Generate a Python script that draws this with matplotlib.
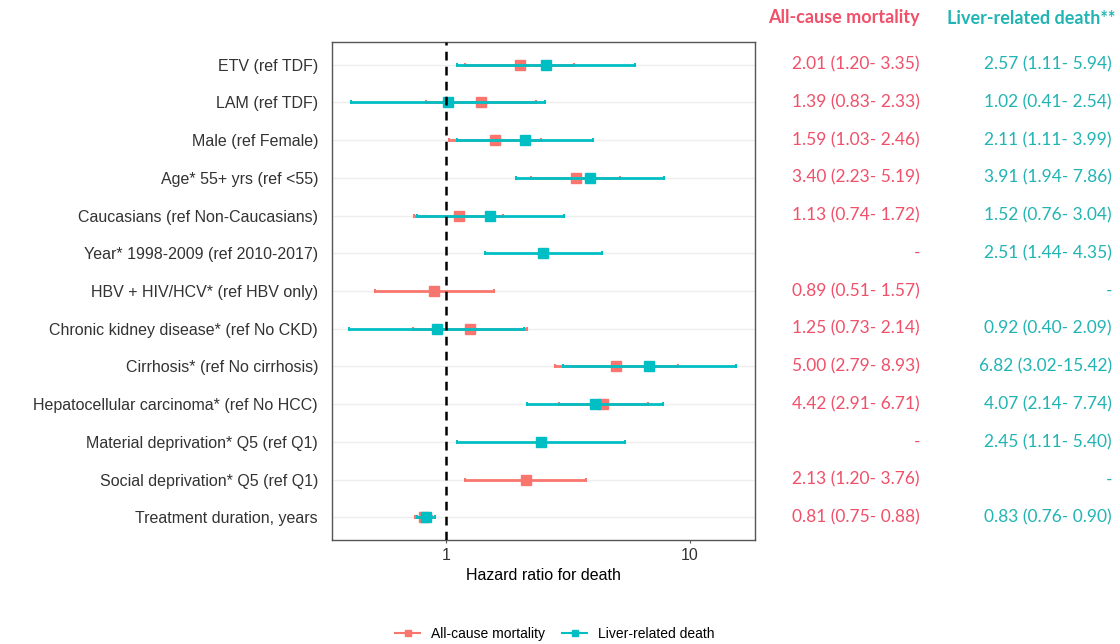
import matplotlib
matplotlib.use("Agg")
import matplotlib.pyplot as plt
from matplotlib.lines import Line2D
import numpy as np

labels = ["ETV (ref TDF)", "LAM (ref TDF)", "Male (ref Female)", "Age* 55+ yrs (ref <55)",
          "Caucasians (ref Non-Caucasians)", "Year* 1998-2009 (ref 2010-2017)",
          "HBV + HIV/HCV* (ref HBV only)", "Chronic kidney disease* (ref No CKD)",
          "Cirrhosis* (ref No cirrhosis)", "Hepatocellular carcinoma* (ref No HCC)",
          "Material deprivation* Q5 (ref Q1)", "Social deprivation* Q5 (ref Q1)",
          "Treatment duration, years"]

nan = np.nan
allcause_hr = [2.01, 1.39, 1.59, 3.40, 1.13, nan, 0.89, 1.25, 5.00, 4.42, nan, 2.13, 0.81]
allcause_lo = [1.20, 0.83, 1.03, 2.23, 0.74, nan, 0.51, 0.73, 2.79, 2.91, nan, 1.20, 0.75]
allcause_hi = [3.35, 2.33, 2.46, 5.19, 1.72, nan, 1.57, 2.14, 8.93, 6.71, nan, 3.76, 0.88]

liver_hr = [2.57, 1.02, 2.11, 3.91, 1.52, 2.51, nan, 0.92, 6.82, 4.07, 2.45, nan, 0.83]
liver_lo = [1.11, 0.41, 1.11, 1.94, 0.76, 1.44, nan, 0.40, 3.02, 2.14, 1.11, nan, 0.76]
liver_hi = [5.94, 2.54, 3.99, 7.86, 3.04, 4.35, nan, 2.09, 15.42, 7.74, 5.40, nan, 0.90]

RED = "#F8766D"
TEAL = "#00BFC4"
RED_TXT = "#F0506A"
TEAL_TXT = "#22B4B4"

plt.rcParams['font.family'] = ['Liberation Sans', 'DejaVu Sans']

fig = plt.figure(figsize=(11.2, 6.44), dpi=100)
ax = fig.add_axes([0.2964, 0.1615, 0.3777, 0.7733])

n = len(labels)
y = np.arange(n)

for yi in y:
    ax.axhline(yi, color="#eeeeee", lw=1.0, zorder=0)

def draw(hr, lo, hi, color, z):
    hr = np.array(hr); lo = np.array(lo); hi = np.array(hi)
    m = ~np.isnan(hr)
    ax.errorbar(hr[m], y[m], xerr=[hr[m] - lo[m], hi[m] - hr[m]], fmt='s', color=color,
                ms=7.5, elinewidth=2, capsize=1.2, capthick=1.5, zorder=z)

draw(allcause_hr, allcause_lo, allcause_hi, RED, 3)
draw(liver_hr, liver_lo, liver_hi, TEAL, 4)

ax.axvline(1, color="black", ls=(0, (3.5, 2.5)), lw=1.8, zorder=5)

ax.set_xscale("log")
ax.set_xlim(0.341, 18.5)
ax.set_ylim(n - 1 + 0.6, -0.6)
ax.set_xticks([1, 10])
ax.set_xticklabels(["1", "10"])
ax.xaxis.set_minor_locator(matplotlib.ticker.NullLocator())
ax.set_yticks(y)
ax.set_yticklabels(labels)
ax.tick_params(axis='y', length=0, pad=10, labelsize=11.5, colors="#333333")
ax.tick_params(axis='x', length=2, labelsize=11.5, colors="#333333", color="#555555")
for sp in ax.spines.values():
    sp.set_color("#555555")
    sp.set_linewidth(1.0)
ax.set_xlabel("Hazard ratio for death", fontsize=11.5, labelpad=4)

# text columns
num_font = ['Lato', 'DejaVu Sans']
fig.text(920/1120, 1 - 18/644, "All-cause mortality", color=RED_TXT, fontsize=13,
         fontweight='bold', ha='right', va='center', family=num_font)
fig.text(1115/1120, 1 - 18/644, "Liver-related death**", color=TEAL_TXT, fontsize=13,
         fontweight='bold', ha='right', va='center', family=num_font)

def fmt(h, l, u):
    if np.isnan(h):
        return "-"
    return f"{h:.2f} ({l:.2f}-{u:5.2f})"

for i in range(n):
    yd = ax.transData.transform((1, i))[1]
    yf = fig.transFigure.inverted().transform((0, yd))[1]
    fig.text(920/1120, yf, fmt(allcause_hr[i], allcause_lo[i], allcause_hi[i]),
             color=RED_TXT, fontsize=12.5, ha='right', va='center', family=num_font)
    fig.text(1112/1120, yf, fmt(liver_hr[i], liver_lo[i], liver_hi[i]),
             color=TEAL_TXT, fontsize=12.5, ha='right', va='center', family=num_font)

handles = [Line2D([0], [0], color=RED, marker='s', ms=5, lw=1.5),
           Line2D([0], [0], color=TEAL, marker='s', ms=5, lw=1.5)]
fig.legend(handles, ["All-cause mortality", "Liver-related death"], loc='center',
           bbox_to_anchor=(555/1120, 1 - 634/644), ncol=2, frameon=False, fontsize=10,
           handlelength=1.8, columnspacing=1.2)

fig.savefig("out.png", dpi=100)
